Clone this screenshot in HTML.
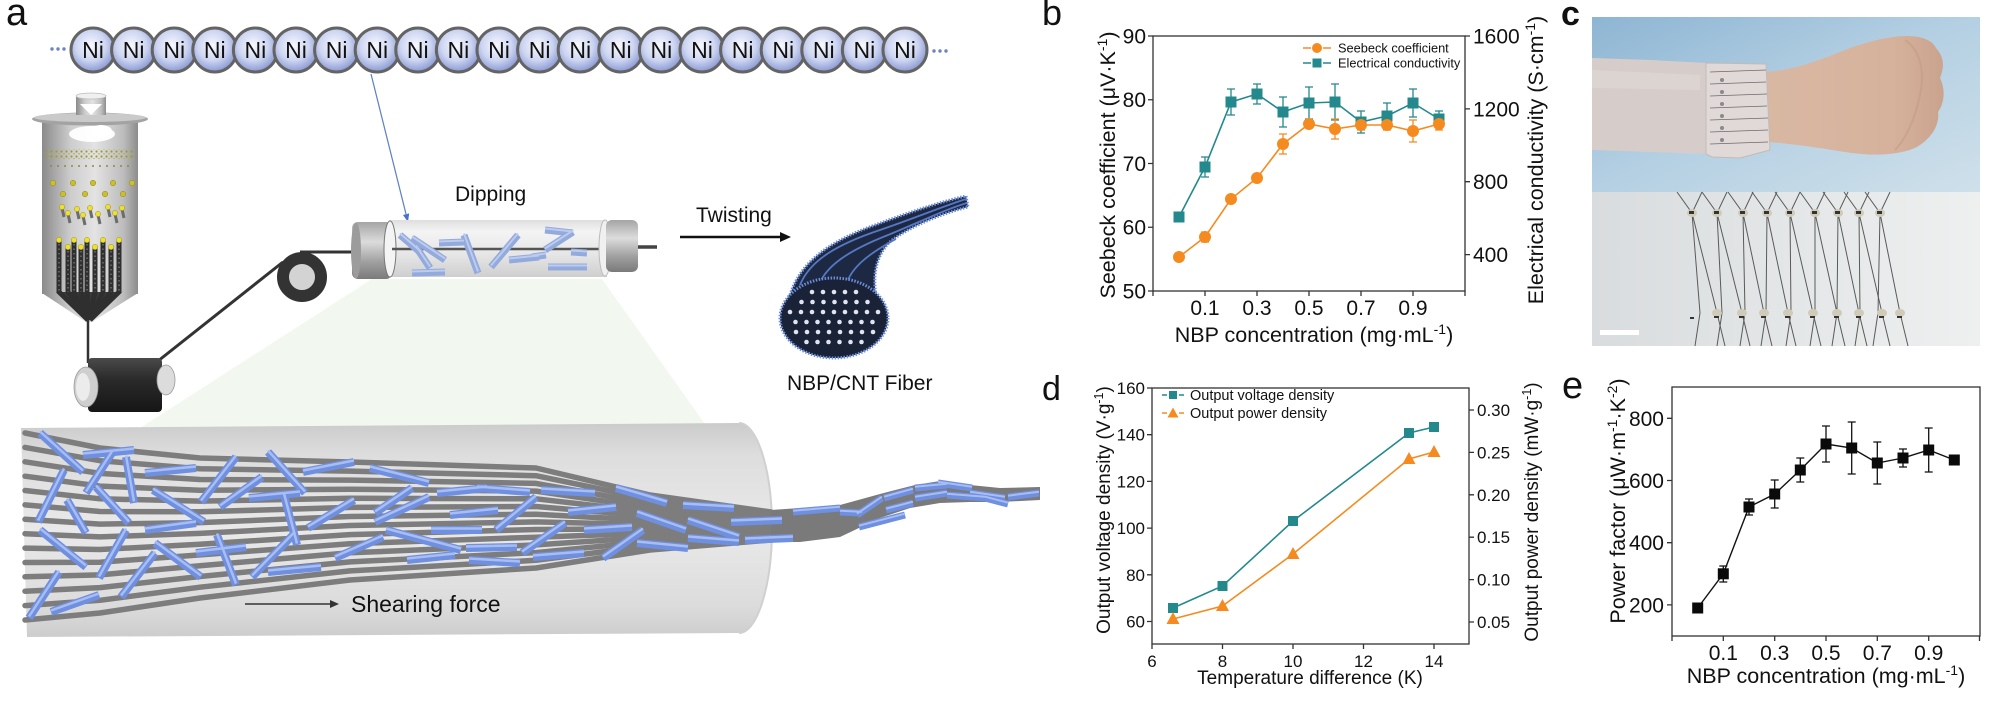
<!DOCTYPE html>
<html><head><meta charset="utf-8">
<style>
html,body{margin:0;padding:0;background:#fff;}
svg{display:block;}
text{font-family:"Liberation Sans",Arial,sans-serif;fill:#111;}
</style></head><body>
<svg width="2000" height="705" viewBox="0 0 2000 705" xmlns="http://www.w3.org/2000/svg">
<defs>
 <radialGradient id="ni" cx="0.45" cy="0.4" r="0.62">
  <stop offset="0" stop-color="#f8f9fe"/><stop offset="0.55" stop-color="#cdd5f1"/><stop offset="1" stop-color="#8494d0"/>
 </radialGradient>
 <linearGradient id="body" x1="0" x2="1" y1="0" y2="0">
  <stop offset="0" stop-color="#8a8a8a"/><stop offset="0.3" stop-color="#cdcdcd"/><stop offset="0.55" stop-color="#e3e3e3"/><stop offset="0.85" stop-color="#bcbcbc"/><stop offset="1" stop-color="#8c8c8c"/>
 </linearGradient>
 <linearGradient id="capH" x1="0" x2="0" y1="0" y2="1">
  <stop offset="0" stop-color="#a5a5a5"/><stop offset="0.35" stop-color="#dcdcdc"/><stop offset="0.7" stop-color="#a0a0a0"/><stop offset="1" stop-color="#7a7a7a"/>
 </linearGradient>
 <linearGradient id="tube" x1="0" x2="0" y1="0" y2="1">
  <stop offset="0" stop-color="#dedede"/><stop offset="0.2" stop-color="#f4f4f4"/><stop offset="0.6" stop-color="#e6e6e6"/><stop offset="1" stop-color="#cfcfcf"/>
 </linearGradient>
 <linearGradient id="cyl" x1="0" x2="0" y1="0" y2="1">
  <stop offset="0" stop-color="#cbcbcb"/><stop offset="0.15" stop-color="#dddddd"/><stop offset="0.5" stop-color="#e9e9e9"/><stop offset="0.85" stop-color="#dcdcdc"/><stop offset="1" stop-color="#cdcdcd"/>
 </linearGradient>
 <linearGradient id="spool" x1="0" x2="0" y1="0" y2="1">
  <stop offset="0" stop-color="#4a4a4a"/><stop offset="0.4" stop-color="#2a2a2a"/><stop offset="1" stop-color="#161616"/>
 </linearGradient>
 <linearGradient id="sky" x1="0" y1="0" x2="1" y2="1">
  <stop offset="0" stop-color="#8db5d3"/><stop offset="0.5" stop-color="#b5d0e3"/><stop offset="1" stop-color="#cfe0ea"/>
 </linearGradient>
 <linearGradient id="paper" x1="0" y1="0" x2="1" y2="0">
  <stop offset="0" stop-color="#d9dcde"/><stop offset="1" stop-color="#eef0f0"/>
 </linearGradient>
 <linearGradient id="skin" x1="0" y1="0" x2="1" y2="0">
  <stop offset="0" stop-color="#d9b8a3"/><stop offset="0.7" stop-color="#d6b29c"/><stop offset="1" stop-color="#caa38d"/>
 </linearGradient>
 <pattern id="olive" width="5" height="5" patternUnits="userSpaceOnUse">
  <circle cx="1.5" cy="1.5" r="1.1" fill="#9d9a3a"/><circle cx="4" cy="3.8" r="0.8" fill="#b3ae45"/>
 </pattern>
 <pattern id="olive2" width="7" height="4" patternUnits="userSpaceOnUse">
  <circle cx="2" cy="2" r="1" fill="#8f8c35"/>
 </pattern>
 <g id="rods">
  <line x1="40" y1="433" x2="83" y2="472"/><line x1="83" y1="455" x2="134" y2="450"/><line x1="112" y1="453" x2="86" y2="493"/>
  <line x1="126" y1="457" x2="134" y2="503"/><line x1="64" y1="470" x2="38" y2="522"/><line x1="145" y1="473" x2="196" y2="468"/>
  <line x1="236" y1="457" x2="201" y2="502"/><line x1="268" y1="452" x2="305" y2="493"/><line x1="303" y1="472" x2="354" y2="462"/>
  <line x1="370" y1="468" x2="429" y2="483"/><line x1="262" y1="477" x2="220" y2="507"/><line x1="153" y1="490" x2="204" y2="522"/>
  <line x1="249" y1="498" x2="300" y2="493"/><line x1="284" y1="495" x2="297" y2="545"/><line x1="354" y1="500" x2="308" y2="528"/>
  <line x1="67" y1="500" x2="86" y2="533"/><line x1="96" y1="487" x2="129" y2="523"/><line x1="145" y1="530" x2="196" y2="523"/>
  <line x1="40" y1="530" x2="86" y2="567"/><line x1="126" y1="530" x2="99" y2="578"/><line x1="155" y1="543" x2="201" y2="577"/>
  <line x1="217" y1="535" x2="236" y2="585"/><line x1="196" y1="553" x2="246" y2="547"/><line x1="295" y1="533" x2="252" y2="577"/>
  <line x1="268" y1="572" x2="321" y2="567"/><line x1="155" y1="553" x2="121" y2="597"/><line x1="59" y1="572" x2="29" y2="618"/>
  <line x1="51" y1="612" x2="99" y2="595"/><line x1="335" y1="558" x2="383" y2="537"/><line x1="375" y1="522" x2="429" y2="497"/>
  <line x1="386" y1="530" x2="461" y2="550"/><line x1="407" y1="560" x2="455" y2="555"/><line x1="412" y1="488" x2="375" y2="513"/>
  <line x1="437" y1="493" x2="487" y2="488"/><line x1="450" y1="515" x2="498" y2="510"/><line x1="431" y1="530" x2="482" y2="530"/>
  <line x1="477" y1="488" x2="530" y2="492"/><line x1="496" y1="530" x2="536" y2="497"/><line x1="466" y1="548" x2="517" y2="547"/>
  <line x1="469" y1="560" x2="520" y2="563"/><line x1="533" y1="557" x2="584" y2="553"/><line x1="522" y1="553" x2="565" y2="523"/>
  <line x1="541" y1="490" x2="595" y2="493"/><line x1="568" y1="512" x2="616" y2="507"/><line x1="584" y1="530" x2="632" y2="527"/>
  <line x1="616" y1="488" x2="667" y2="503"/><line x1="637" y1="543" x2="688" y2="548"/><line x1="603" y1="558" x2="643" y2="530"/>
  <line x1="683" y1="505" x2="734" y2="508"/><line x1="637" y1="513" x2="686" y2="530"/><line x1="688" y1="520" x2="739" y2="537"/>
  <line x1="731" y1="522" x2="782" y2="520"/><line x1="688" y1="538" x2="739" y2="542"/><line x1="745" y1="540" x2="793" y2="538"/>
 </g>
 <g id="tailrods">
  <line x1="793" y1="512" x2="840" y2="508"/><line x1="840" y1="512" x2="862" y2="513"/><line x1="857" y1="515" x2="882" y2="498"/>
  <line x1="859" y1="527" x2="905" y2="515"/><line x1="884" y1="498" x2="913" y2="490"/><line x1="886" y1="510" x2="913" y2="503"/>
  <line x1="915" y1="488" x2="947" y2="485"/><line x1="915" y1="498" x2="947" y2="493"/><line x1="938" y1="483" x2="972" y2="488"/>
  <line x1="947" y1="495" x2="985" y2="498"/><line x1="970" y1="493" x2="1005" y2="498"/><line x1="985" y1="498" x2="1008" y2="504"/>
  <line x1="1008" y1="497" x2="1039" y2="493"/>
 </g>
 <g id="tuberods">
  <line x1="400" y1="235" x2="421" y2="253"/><line x1="412" y1="238" x2="445" y2="260"/><line x1="416" y1="247" x2="430" y2="268"/>
  <line x1="412" y1="273" x2="445" y2="272"/><line x1="439" y1="243" x2="464" y2="242"/><line x1="464" y1="235" x2="478" y2="273"/>
  <line x1="491" y1="267" x2="518" y2="235"/><line x1="509" y1="260" x2="539" y2="257"/><line x1="545" y1="230" x2="573" y2="233"/>
  <line x1="545" y1="250" x2="573" y2="232"/><line x1="571" y1="252" x2="587" y2="253"/><line x1="548" y1="267" x2="587" y2="267"/>
  <line x1="532" y1="257" x2="546" y2="255"/>
 </g>
</defs>

<!-- ================= PANEL A ================= -->
<text x="6" y="25" font-size="38">a</text>

<g fill="#6f7fc8"><circle cx="52" cy="49" r="1.7"/><circle cx="58" cy="49" r="1.7"/><circle cx="64" cy="49" r="1.7"/>
<circle cx="934" cy="51" r="1.7"/><circle cx="940" cy="51" r="1.7"/><circle cx="946" cy="51" r="1.7"/></g>
<g stroke="#646464" stroke-width="3" fill="url(#ni)">
<circle cx="93" cy="50" r="22"/><circle cx="133.6" cy="50" r="22"/><circle cx="174.2" cy="50" r="22"/><circle cx="214.8" cy="50" r="22"/>
<circle cx="255.4" cy="50" r="22"/><circle cx="296" cy="50" r="22"/><circle cx="336.6" cy="50" r="22"/><circle cx="377.2" cy="50" r="22"/>
<circle cx="417.8" cy="50" r="22"/><circle cx="458.4" cy="50" r="22"/><circle cx="499" cy="50" r="22"/><circle cx="539.6" cy="50" r="22"/>
<circle cx="580.2" cy="50" r="22"/><circle cx="620.8" cy="50" r="22"/><circle cx="661.4" cy="50" r="22"/><circle cx="702" cy="50" r="22"/>
<circle cx="742.6" cy="50" r="22"/><circle cx="783.2" cy="50" r="22"/><circle cx="823.8" cy="50" r="22"/><circle cx="864.4" cy="50" r="22"/>
<circle cx="905" cy="50" r="22"/>
</g>
<g font-size="23" text-anchor="middle" fill="#151515">
<text x="93" y="58">Ni</text><text x="133.6" y="58">Ni</text><text x="174.2" y="58">Ni</text><text x="214.8" y="58">Ni</text>
<text x="255.4" y="58">Ni</text><text x="296" y="58">Ni</text><text x="336.6" y="58">Ni</text><text x="377.2" y="58">Ni</text>
<text x="417.8" y="58">Ni</text><text x="458.4" y="58">Ni</text><text x="499" y="58">Ni</text><text x="539.6" y="58">Ni</text>
<text x="580.2" y="58">Ni</text><text x="620.8" y="58">Ni</text><text x="661.4" y="58">Ni</text><text x="702" y="58">Ni</text>
<text x="742.6" y="58">Ni</text><text x="783.2" y="58">Ni</text><text x="823.8" y="58">Ni</text><text x="864.4" y="58">Ni</text>
<text x="905" y="58">Ni</text>
</g>
<line x1="371" y1="74" x2="406" y2="214" stroke="#5b80c8" stroke-width="1.2"/>
<polygon points="408,222 409.2,213.4 403,215" fill="#4a72c4"/>

<!-- Reactor -->
<rect x="42" y="122" width="96" height="172" fill="url(#body)"/>
<polygon points="42,293 138,293 92,322 86,322" fill="url(#body)"/>
<ellipse cx="90" cy="119" rx="58" ry="6.5" fill="#a3a3a3"/>
<ellipse cx="90" cy="117.5" rx="56" ry="4.5" fill="#cacaca"/>
<rect x="76" y="96" width="30" height="19" fill="url(#body)"/>
<ellipse cx="91" cy="96" rx="15" ry="3" fill="#f0f0f0" stroke="#bbb" stroke-width="0.8"/>
<polygon points="80,104 102,104 91,115" fill="#fff"/>
<ellipse cx="92" cy="134" rx="23" ry="8" fill="#fff" opacity="0.95"/>
<ellipse cx="101" cy="131" rx="11" ry="6" fill="#fff"/>
<rect x="46" y="149" width="88" height="10" fill="url(#olive)"/>
<rect x="48" y="164" width="86" height="4" fill="url(#olive2)"/>
<g fill="#cbbf30" stroke="#8e8720" stroke-width="0.5">
<circle cx="53" cy="183" r="2.8"/><circle cx="73" cy="183" r="2.8"/><circle cx="93" cy="183" r="2.8"/><circle cx="113" cy="183" r="2.8"/><circle cx="132" cy="183" r="2.8"/>
<circle cx="63" cy="194" r="2.8"/><circle cx="85" cy="194" r="2.8"/><circle cx="105" cy="194" r="2.8"/><circle cx="123" cy="194" r="2.8"/>
</g>
<g stroke="#6d6d6d" stroke-width="3">
<line x1="62" y1="208" x2="64" y2="217"/><line x1="68" y1="214" x2="70" y2="223"/><line x1="77" y1="210" x2="79" y2="219"/>
<line x1="83" y1="216" x2="85" y2="225"/><line x1="90" y1="209" x2="92" y2="218"/><line x1="98" y1="215" x2="100" y2="224"/>
<line x1="108" y1="208" x2="110" y2="217"/><line x1="115" y1="214" x2="117" y2="223"/><line x1="122" y1="209" x2="124" y2="218"/>
</g>
<g fill="#eee02c" stroke="#9a9020" stroke-width="0.5">
<circle cx="62" cy="207" r="2.6"/><circle cx="68" cy="213" r="2.6"/><circle cx="77" cy="209" r="2.6"/><circle cx="83" cy="215" r="2.6"/>
<circle cx="90" cy="208" r="2.6"/><circle cx="98" cy="214" r="2.6"/><circle cx="108" cy="207" r="2.6"/><circle cx="115" cy="213" r="2.6"/><circle cx="122" cy="208" r="2.6"/>
</g>
<polygon points="56,292 122,292 89,320" fill="#3a3a3a"/>
<g stroke="#2f2f2f" stroke-width="5" fill="none">
<path d="M59,240V292L88,320"/><path d="M68,247V292L88,320"/><path d="M74,240V292L88,320"/><path d="M81,247V292L88,320"/>
<path d="M87,240V292L89,320"/><path d="M95,247V292L89,320"/><path d="M103,240V292L90,320"/><path d="M111,247V292L90,320"/><path d="M119,240V292L90,320"/>
</g>
<g stroke="#707070" stroke-width="1.5" stroke-dasharray="1.5 3" fill="none">
<path d="M59,244V292"/><path d="M68,251V292"/><path d="M74,244V292"/><path d="M81,251V292"/><path d="M87,244V292"/><path d="M95,251V292"/><path d="M103,244V292"/><path d="M111,251V292"/><path d="M119,244V292"/>
</g>
<g fill="#eee02c" stroke="#9a9020" stroke-width="0.5">
<circle cx="59" cy="240" r="2.7"/><circle cx="68" cy="247" r="2.7"/><circle cx="74" cy="240" r="2.7"/><circle cx="81" cy="247" r="2.7"/>
<circle cx="87" cy="240" r="2.7"/><circle cx="95" cy="247" r="2.7"/><circle cx="103" cy="240" r="2.7"/><circle cx="111" cy="247" r="2.7"/><circle cx="119" cy="240" r="2.7"/>
</g>

<line x1="88" y1="320" x2="88" y2="363" stroke="#333" stroke-width="2.5"/>
<line x1="158" y1="361" x2="283" y2="262" stroke="#333" stroke-width="3"/>
<line x1="300" y1="252" x2="356" y2="252" stroke="#333" stroke-width="3"/>
<rect x="88" y="358" width="74" height="54" rx="4" fill="url(#spool)"/>
<ellipse cx="166" cy="380" rx="9" ry="15" fill="#dcdcdc" stroke="#999" stroke-width="0.8"/>
<ellipse cx="86" cy="387" rx="12" ry="20" fill="#cfcfcf" stroke="#9a9a9a" stroke-width="0.8"/>
<ellipse cx="83" cy="387" rx="7" ry="14" fill="#ececec"/>
<circle cx="302" cy="277" r="19" fill="#d3d3d3" stroke="#333" stroke-width="12"/>

<polygon points="372,279 602,279 705,424 140,428" fill="#f2f8f0"/>

<!-- dipping tube -->
<rect x="352" y="222" width="40" height="57" rx="6" fill="url(#capH)"/>
<ellipse cx="356" cy="250.5" rx="5" ry="28" fill="#9c9c9c"/>
<rect x="389" y="220" width="218" height="57" fill="url(#tube)"/>
<ellipse cx="390" cy="249" rx="6" ry="28" fill="#f4f4f4" stroke="#777" stroke-width="1"/>
<line x1="392" y1="249" x2="606" y2="249" stroke="#555" stroke-width="2.5"/>
<use href="#tuberods" stroke="#93aadc" stroke-width="7"/>
<use href="#tuberods" stroke="#bccbee" stroke-width="2" transform="translate(0,-1.5)"/>
<ellipse cx="605" cy="248" rx="6" ry="28" fill="#f0f0f0" stroke="#bbb" stroke-width="1"/>
<rect x="606" y="220" width="32" height="52" rx="6" fill="url(#capH)"/>
<line x1="638" y1="247" x2="657" y2="247" stroke="#444" stroke-width="3.5"/>
<text x="455" y="201" font-size="21">Dipping</text>

<text x="696" y="222" font-size="21">Twisting</text>
<line x1="680" y1="237" x2="782" y2="237" stroke="#111" stroke-width="2.5"/>
<polygon points="780,232 791,237 780,242" fill="#111"/>

<!-- twisted fiber -->
<path d="M790,295 C800,262 830,241 875,225 C910,212 940,202 966,196 L968,207 C940,214 912,226 892,240 C878,252 872,272 876,295 Z" fill="#1d2842" stroke="#6c8edb" stroke-width="3" stroke-dasharray="1.5 1.5"/>
<g fill="none" stroke="#5577c4" stroke-width="1.8">
<path d="M800,285 C810,260 838,244 880,230 C915,218 944,206 966,199"/>
<path d="M818,288 C824,266 850,250 888,235 C920,222 946,209 967,203"/>
<path d="M845,290 C848,270 866,255 896,239"/>
</g>
<ellipse cx="834" cy="318" rx="54" ry="40" fill="#1a2238" stroke="#6c8edb" stroke-width="3" stroke-dasharray="1.5 1.5"/>
<g fill="#dfe4ee">
<circle cx="812" cy="292" r="2.3"/><circle cx="823" cy="292" r="2.3"/><circle cx="834" cy="292" r="2.3"/><circle cx="845" cy="292" r="2.3"/><circle cx="856" cy="292" r="2.3"/>
<circle cx="801.5" cy="302" r="2.3"/><circle cx="812.5" cy="302" r="2.3"/><circle cx="823.5" cy="302" r="2.3"/><circle cx="834.5" cy="302" r="2.3"/><circle cx="845.5" cy="302" r="2.3"/><circle cx="856.5" cy="302" r="2.3"/><circle cx="867.5" cy="302" r="2.3"/>
<circle cx="790" cy="312" r="2.3"/><circle cx="801" cy="312" r="2.3"/><circle cx="812" cy="312" r="2.3"/><circle cx="823" cy="312" r="2.3"/><circle cx="834" cy="312" r="2.3"/><circle cx="845" cy="312" r="2.3"/><circle cx="856" cy="312" r="2.3"/><circle cx="867" cy="312" r="2.3"/><circle cx="878" cy="312" r="2.3"/>
<circle cx="795.5" cy="322" r="2.3"/><circle cx="806.5" cy="322" r="2.3"/><circle cx="817.5" cy="322" r="2.3"/><circle cx="828.5" cy="322" r="2.3"/><circle cx="839.5" cy="322" r="2.3"/><circle cx="850.5" cy="322" r="2.3"/><circle cx="861.5" cy="322" r="2.3"/><circle cx="872.5" cy="322" r="2.3"/>
<circle cx="796" cy="332" r="2.3"/><circle cx="807" cy="332" r="2.3"/><circle cx="818" cy="332" r="2.3"/><circle cx="829" cy="332" r="2.3"/><circle cx="840" cy="332" r="2.3"/><circle cx="851" cy="332" r="2.3"/><circle cx="862" cy="332" r="2.3"/><circle cx="873" cy="332" r="2.3"/>
<circle cx="806.5" cy="342" r="2.3"/><circle cx="817.5" cy="342" r="2.3"/><circle cx="828.5" cy="342" r="2.3"/><circle cx="839.5" cy="342" r="2.3"/><circle cx="850.5" cy="342" r="2.3"/><circle cx="861.5" cy="342" r="2.3"/>
</g>
<text x="787" y="390" font-size="21">NBP/CNT Fiber</text>

<!-- big cylinder -->
<path d="M21,428 L739,423 A33,105 0 0 1 739,633 L27,637 Z" fill="url(#cyl)"/>
<path d="M739,423 A33,105 0 0 1 739,633" fill="none" stroke="#d0d0d0" stroke-width="2"/>
<g stroke="#7d7d7d" stroke-width="5.5" fill="none" stroke-linejoin="round" stroke-linecap="round">
<polyline points="25,433 100,448 200,458 350,462 536,468 650,495 771,512"/>
<polyline points="25,447.4 100,460.7 200,468.8 350,471.1 536,475.7 650,499.2 771,514.2"/>
<polyline points="25,461.8 100,473.4 200,479.5 350,480.1 536,483.4 650,503.5 771,516.3"/>
<polyline points="25,476.2 100,486.1 200,490.3 350,489.2 536,491.1 650,507.7 771,518.5"/>
<polyline points="25,490.5 100,498.8 200,501.1 350,498.3 536,498.8 650,511.9 771,520.6"/>
<polyline points="25,504.9 100,511.5 200,511.8 350,507.4 536,506.5 650,516.2 771,522.8"/>
<polyline points="25,519.3 100,524.1 200,522.6 350,516.5 536,514.2 650,520.4 771,524.9"/>
<polyline points="25,533.7 100,536.9 200,533.4 350,525.5 536,521.9 650,524.6 771,527.1"/>
<polyline points="25,548.1 100,549.5 200,544.2 350,534.6 536,529.5 650,528.8 771,529.2"/>
<polyline points="25,562.5 100,562.2 200,554.9 350,543.7 536,537.2 650,533.1 771,531.4"/>
<polyline points="25,576.8 100,574.9 200,565.7 350,552.8 536,544.9 650,537.3 771,533.5"/>
<polyline points="25,591.2 100,587.6 200,576.5 350,561.9 536,552.6 650,541.5 771,535.7"/>
<polyline points="25,605.6 100,600.3 200,587.2 350,570.9 536,560.3 650,545.8 771,537.8"/>
<polyline points="25,620 100,613 200,598 350,580 536,568 650,550 771,540"/>
</g>
<polygon points="771,510 800,508 840,505 880,494 915,485 940,481 970,485 1000,488 1040,487 1040,500 1000,502 970,502 940,503 910,508 880,518 840,537 800,542 771,542" fill="#7a7a7a"/>
<use href="#rods" stroke="#6f8fe0" stroke-width="8"/>
<use href="#rods" stroke="#a8bdf2" stroke-width="2.5" transform="translate(0,-1.5)"/>
<use href="#tailrods" stroke="#6f8fe0" stroke-width="7"/>
<use href="#tailrods" stroke="#a8bdf2" stroke-width="2" transform="translate(0,-1.3)"/>
<line x1="245" y1="604" x2="331" y2="604" stroke="#333" stroke-width="1.6"/>
<polygon points="330,600 339,604 330,608" fill="#333"/>
<text x="351" y="612" font-size="23">Shearing force</text>

<!-- ================= PANEL B ================= -->
<text x="1042" y="25" font-size="36">b</text>
<rect x="1153" y="36" width="312" height="255" fill="none" stroke="#333" stroke-width="1.3"/>
<g stroke="#333" stroke-width="1.3">
<path d="M1148,291H1153M1148,227.25H1153M1148,163.5H1153M1148,99.75H1153M1148,36H1153"/>
<path d="M1465,254.6H1470M1465,181.7H1470M1465,108.9H1470M1465,36H1470"/>
<path d="M1153,291V296M1205,291V296M1257,291V296M1309,291V296M1361,291V296M1413,291V296M1465,291V296"/>
</g>
<g font-size="21" text-anchor="end">
<text x="1146" y="298.5">50</text><text x="1146" y="234.7">60</text><text x="1146" y="171">70</text><text x="1146" y="107.2">80</text><text x="1146" y="43.5">90</text>
</g>
<g font-size="21">
<text x="1473" y="43.5">1600</text><text x="1473" y="116.4">1200</text><text x="1473" y="189.2">800</text><text x="1473" y="262.1">400</text>
</g>
<g font-size="21" text-anchor="middle">
<text x="1205" y="315">0.1</text><text x="1257" y="315">0.3</text><text x="1309" y="315">0.5</text><text x="1361" y="315">0.7</text><text x="1413" y="315">0.9</text>
</g>
<text x="1314" y="342" font-size="21.5" text-anchor="middle">NBP concentration (mg·mL<tspan dy="-8" font-size="14">-1</tspan><tspan dy="8">)</tspan></text>
<text transform="translate(1115,165) rotate(-90)" font-size="21.5" text-anchor="middle">Seebeck coefficient (μV·K<tspan dy="-8" font-size="14">-1</tspan><tspan dy="8">)</tspan></text>
<text transform="translate(1543,160) rotate(-90)" font-size="21.5" text-anchor="middle">Electrical conductivity (S·cm<tspan dy="-8" font-size="14">-1</tspan><tspan dy="8">)</tspan></text>
<polyline points="1179,217 1205,167 1231,102 1257,94 1283,112 1309,103 1335,102 1361,122 1387,116 1413,103 1439,119" fill="none" stroke="#23898d" stroke-width="1.6"/>
<polyline points="1179,257 1205,237 1231,199 1257,178 1283,144 1309,124 1335,129 1361,125 1387,125 1413,131 1439,124" fill="none" stroke="#f58b1f" stroke-width="1.6"/>
<path d="M1205,157V177M1201,157H1209M1201,177H1209M1231,89V115M1227,89H1235M1227,115H1235M1257,84V104M1253,84H1261M1253,104H1261M1283,97V127M1279,97H1287M1279,127H1287M1309,87V119M1305,87H1313M1305,119H1313M1335,84V120M1331,84H1339M1331,120H1339M1361,111V133M1357,111H1365M1357,133H1365M1387,103V129M1383,103H1391M1383,129H1391M1413,89V117M1409,89H1417M1409,117H1417M1439,111V127M1435,111H1443M1435,127H1443" stroke="#23898d" stroke-width="1.3" fill="none"/>
<path d="M1179,253V261M1175,253H1183M1175,261H1183M1205,232V242M1201,232H1209M1201,242H1209M1283,134V154M1279,134H1287M1279,154H1287M1335,119V139M1331,119H1339M1331,139H1339M1361,120V130M1357,120H1365M1357,130H1365M1387,120V130M1383,120H1391M1383,130H1391M1413,120V142M1409,120H1417M1409,142H1417M1439,118V130M1435,118H1443M1435,130H1443" stroke="#f58b1f" stroke-width="1.3" fill="none"/>
<g fill="#23898d">
<rect x="1173.5" y="211.5" width="11" height="11"/><rect x="1199.5" y="161.5" width="11" height="11"/><rect x="1225.5" y="96.5" width="11" height="11"/>
<rect x="1251.5" y="88.5" width="11" height="11"/><rect x="1277.5" y="106.5" width="11" height="11"/><rect x="1303.5" y="97.5" width="11" height="11"/>
<rect x="1329.5" y="96.5" width="11" height="11"/><rect x="1355.5" y="116.5" width="11" height="11"/><rect x="1381.5" y="110.5" width="11" height="11"/>
<rect x="1407.5" y="97.5" width="11" height="11"/><rect x="1433.5" y="113.5" width="11" height="11"/>
</g>
<g fill="#f58b1f">
<circle cx="1179" cy="257" r="6"/><circle cx="1205" cy="237" r="6"/><circle cx="1231" cy="199" r="6"/><circle cx="1257" cy="178" r="6"/>
<circle cx="1283" cy="144" r="6"/><circle cx="1309" cy="124" r="6"/><circle cx="1335" cy="129" r="6"/><circle cx="1361" cy="125" r="6"/>
<circle cx="1387" cy="125" r="6"/><circle cx="1413" cy="131" r="6"/><circle cx="1439" cy="124" r="6"/>
</g>
<path d="M1303,48H1311M1323,48H1331" stroke="#f58b1f" stroke-width="1.6"/>
<circle cx="1317" cy="48" r="5" fill="#f58b1f"/>
<path d="M1303,63H1311M1323,63H1331" stroke="#23898d" stroke-width="1.6"/>
<rect x="1312.5" y="58.5" width="9" height="9" fill="#23898d"/>
<text x="1338" y="52.5" font-size="12.8">Seebeck coefficient</text>
<text x="1338" y="67.5" font-size="12.8">Electrical conductivity</text>

<!-- ================= PANEL C ================= -->
<text x="1561" y="25" font-size="34" font-weight="bold">c</text>
<rect x="1592" y="17" width="388" height="175" fill="url(#sky)"/>
<path d="M1592,58 L1650,60 L1707,63 L1707,154 L1650,152 L1592,150 Z" fill="#d6cdca"/>
<path d="M1592,70 L1700,75 L1700,90 L1592,88 Z" fill="#e0d8d5" opacity="0.6"/>
<path d="M1766,72 C1795,70 1820,60 1845,50 C1865,42 1885,37 1905,36 C1922,36 1932,40 1936,48 C1945,58 1944,68 1940,78 C1946,90 1944,104 1938,112 C1940,126 1930,140 1915,148 C1895,156 1870,156 1845,152 C1820,148 1795,144 1768,142 Z" fill="url(#skin)"/>
<path d="M1905,40 C1920,50 1925,70 1920,95 C1915,120 1905,140 1895,150" fill="none" stroke="#c29a85" stroke-width="2" opacity="0.5"/>
<path d="M1706,63 L1766,64 L1770,150 L1740,158 L1712,157 L1706,154 Z" fill="#e1d9d7" stroke="#c2bab7" stroke-width="1"/>
<g stroke="#6b6b6b" stroke-width="0.8">
<line x1="1710" y1="72" x2="1766" y2="70"/><line x1="1710" y1="84" x2="1766" y2="82"/><line x1="1710" y1="96" x2="1767" y2="94"/>
<line x1="1710" y1="108" x2="1767" y2="106"/><line x1="1710" y1="120" x2="1768" y2="118"/><line x1="1710" y1="132" x2="1768" y2="130"/><line x1="1710" y1="144" x2="1768" y2="142"/>
</g>
<g fill="#8a8a8a"><circle cx="1722" cy="80" r="2"/><circle cx="1722" cy="92" r="2"/><circle cx="1722" cy="104" r="2"/><circle cx="1722" cy="116" r="2"/><circle cx="1722" cy="128" r="2"/><circle cx="1722" cy="140" r="2"/></g>
<rect x="1592" y="192" width="388" height="154" fill="url(#paper)"/>
<g stroke="#5a5a5a" stroke-width="1" fill="none">
<path d="M1677,192L1692,213L1717,313L1725,346M1702,192L1692,213L1700,313L1695,346"/>
<path d="M1702,192L1717,213L1742,313L1750,346M1727,192L1717,213L1722,313L1717,346"/>
<path d="M1728,192L1743,213L1764,313L1772,346M1753,192L1743,213L1745,313L1740,346"/>
<path d="M1752,192L1767,213L1788,313L1796,346M1777,192L1767,213L1766,313L1761,346"/>
<path d="M1775,192L1790,213L1813,313L1821,346M1800,192L1790,213L1791,313L1786,346"/>
<path d="M1800,192L1815,213L1837,313L1845,346M1825,192L1815,213L1815,313L1810,346"/>
<path d="M1823,192L1838,213L1859,313L1867,346M1848,192L1838,213L1837,313L1832,346"/>
<path d="M1844,192L1859,213L1882,313L1890,346M1869,192L1859,213L1860,313L1855,346"/>
<path d="M1865,192L1880,213L1900,313L1908,346M1890,192L1880,213L1878,313L1873,346"/>
</g>
<g fill="#cfcbb8">
<ellipse cx="1692" cy="213" rx="5" ry="4"/><ellipse cx="1717" cy="213" rx="5" ry="4"/><ellipse cx="1743" cy="213" rx="5" ry="4"/><ellipse cx="1767" cy="213" rx="5" ry="4"/><ellipse cx="1790" cy="213" rx="5" ry="4"/><ellipse cx="1815" cy="213" rx="5" ry="4"/><ellipse cx="1838" cy="213" rx="5" ry="4"/><ellipse cx="1859" cy="213" rx="5" ry="4"/><ellipse cx="1880" cy="213" rx="5" ry="4"/>
<ellipse cx="1717" cy="313" rx="5" ry="4"/><ellipse cx="1742" cy="313" rx="5" ry="4"/><ellipse cx="1764" cy="313" rx="5" ry="4"/><ellipse cx="1788" cy="313" rx="5" ry="4"/><ellipse cx="1813" cy="313" rx="5" ry="4"/><ellipse cx="1837" cy="313" rx="5" ry="4"/><ellipse cx="1859" cy="313" rx="5" ry="4"/><ellipse cx="1882" cy="313" rx="5" ry="4"/><ellipse cx="1900" cy="313" rx="5" ry="4"/>
</g>
<g fill="#333">
<rect x="1689" y="211" width="5" height="3"/><rect x="1714" y="211" width="5" height="3"/><rect x="1740" y="211" width="5" height="3"/><rect x="1764" y="211" width="5" height="3"/><rect x="1787" y="211" width="5" height="3"/><rect x="1812" y="211" width="5" height="3"/><rect x="1835" y="211" width="5" height="3"/><rect x="1856" y="211" width="5" height="3"/><rect x="1877" y="211" width="5" height="3"/>
<rect x="1714" y="316" width="5" height="2"/><rect x="1739" y="316" width="5" height="2"/><rect x="1761" y="316" width="5" height="2"/><rect x="1785" y="316" width="5" height="2"/><rect x="1810" y="316" width="5" height="2"/><rect x="1834" y="316" width="5" height="2"/><rect x="1856" y="316" width="5" height="2"/><rect x="1879" y="316" width="5" height="2"/><rect x="1897" y="316" width="5" height="2"/><rect x="1690" y="317" width="4" height="2"/>
</g>
<rect x="1600" y="330" width="39" height="5" fill="#fff"/>

<!-- ================= PANEL D ================= -->
<text x="1042" y="400" font-size="34">d</text>
<rect x="1152" y="388" width="317" height="256" fill="none" stroke="#333" stroke-width="1.3"/>
<g stroke="#333" stroke-width="1.3">
<path d="M1147,388H1152M1147,434.7H1152M1147,481.4H1152M1147,528.1H1152M1147,574.8H1152M1147,621.5H1152"/>
<path d="M1152,644V649M1222.5,644V649M1293,644V649M1363.5,644V649M1434,644V649"/>
<path d="M1469,410H1474M1469,452.4H1474M1469,494.8H1474M1469,537.2H1474M1469,579.6H1474M1469,622H1474"/>
</g>
<g font-size="17" text-anchor="end">
<text x="1145" y="394">160</text><text x="1145" y="440.7">140</text><text x="1145" y="487.4">120</text><text x="1145" y="534.1">100</text><text x="1145" y="580.8">80</text><text x="1145" y="627.5">60</text>
</g>
<g font-size="17">
<text x="1477" y="416">0.30</text><text x="1477" y="458.4">0.25</text><text x="1477" y="500.8">0.20</text><text x="1477" y="543.2">0.15</text><text x="1477" y="585.6">0.10</text><text x="1477" y="628">0.05</text>
</g>
<g font-size="17" text-anchor="middle">
<text x="1152" y="667">6</text><text x="1222.5" y="667">8</text><text x="1293" y="667">10</text><text x="1363.5" y="667">12</text><text x="1434" y="667">14</text>
</g>
<text x="1310" y="684" font-size="19" text-anchor="middle">Temperature difference (K)</text>
<text transform="translate(1110,510) rotate(-90)" font-size="19" text-anchor="middle">Output voltage density (V·g<tspan dy="-7" font-size="12.5">-1</tspan><tspan dy="7">)</tspan></text>
<text transform="translate(1538,512) rotate(-90)" font-size="19" text-anchor="middle">Output power density (mW·g<tspan dy="-7" font-size="12.5">-1</tspan><tspan dy="7">)</tspan></text>
<polyline points="1173,608 1222.5,586 1293,521 1409,433 1434,427" fill="none" stroke="#23898d" stroke-width="1.6"/>
<polyline points="1173,619 1222.5,606 1293,554 1409,459 1434,452" fill="none" stroke="#f58b1f" stroke-width="1.6"/>
<g fill="#23898d">
<rect x="1168" y="603" width="10" height="10"/><rect x="1217.5" y="581" width="10" height="10"/><rect x="1288" y="516" width="10" height="10"/><rect x="1404" y="428" width="10" height="10"/><rect x="1429" y="422" width="10" height="10"/>
</g>
<g fill="#f58b1f">
<polygon points="1173,612 1166.5,624 1179.5,624"/><polygon points="1222.5,599 1216,611 1229,611"/><polygon points="1293,547 1286.5,559 1299.5,559"/><polygon points="1409,452 1402.5,464 1415.5,464"/><polygon points="1434,445 1427.5,457 1440.5,457"/>
</g>
<path d="M1162,395H1167M1179,395H1184" stroke="#23898d" stroke-width="1.5"/>
<rect x="1169" y="391" width="8" height="8" fill="#23898d"/>
<path d="M1162,413H1167M1179,413H1184" stroke="#f58b1f" stroke-width="1.5"/>
<polygon points="1173,407.5 1167.5,417.5 1178.5,417.5" fill="#f58b1f"/>
<text x="1190" y="400" font-size="14.5">Output voltage density</text>
<text x="1190" y="418" font-size="14.5">Output power density</text>

<!-- ================= PANEL E ================= -->
<text x="1562" y="398" font-size="38">e</text>
<rect x="1672" y="387" width="308" height="249" fill="none" stroke="#333" stroke-width="1.3"/>
<g stroke="#333" stroke-width="1.3">
<path d="M1667,604.9H1672M1667,542.7H1672M1667,480.5H1672M1667,418.3H1672"/>
<path d="M1672,636V641M1723.3,636V641M1774.7,636V641M1826,636V641M1877.3,636V641M1928.7,636V641M1979.5,636V641"/>
</g>
<g font-size="21" text-anchor="end">
<text x="1664" y="612.4">200</text><text x="1664" y="550.2">400</text><text x="1664" y="488">600</text><text x="1664" y="425.8">800</text>
</g>
<g font-size="21" text-anchor="middle">
<text x="1723.3" y="660">0.1</text><text x="1774.7" y="660">0.3</text><text x="1826" y="660">0.5</text><text x="1877.3" y="660">0.7</text><text x="1928.7" y="660">0.9</text>
</g>
<text x="1826" y="683" font-size="21.5" text-anchor="middle">NBP concentration (mg·mL<tspan dy="-8" font-size="14">-1</tspan><tspan dy="8">)</tspan></text>
<text transform="translate(1625,501) rotate(-90)" font-size="21.5" text-anchor="middle">Power factor (μW·m<tspan dy="-8" font-size="14">-1</tspan><tspan dy="8">·K</tspan><tspan dy="-8" font-size="14">-2</tspan><tspan dy="8">)</tspan></text>
<polyline points="1697.7,608 1723.3,573.8 1749,507 1774.7,494 1800.3,470 1826,444 1851.7,448 1877.3,463 1903,458 1928.7,450 1954.3,460" fill="none" stroke="#111" stroke-width="1.4"/>
<path d="M1723.3,566V582M1719.3,566H1727.3M1719.3,582H1727.3M1749,499V515M1745,499H1753M1745,515H1753M1774.7,480V508M1770.7,480H1778.7M1770.7,508H1778.7M1800.3,458V482M1796.3,458H1804.3M1796.3,482H1804.3M1826,426V462M1822,426H1830M1822,462H1830M1851.7,422V474M1847.7,422H1855.7M1847.7,474H1855.7M1877.3,442V484M1873.3,442H1881.3M1873.3,484H1881.3M1903,449V467M1899,449H1907M1899,467H1907M1928.7,428V472M1924.7,428H1932.7M1924.7,472H1932.7" stroke="#111" stroke-width="1.3" fill="none"/>
<g fill="#0a0a0a">
<rect x="1692.2" y="602.5" width="11" height="11"/><rect x="1717.8" y="568.3" width="11" height="11"/><rect x="1743.5" y="501.5" width="11" height="11"/>
<rect x="1769.2" y="488.5" width="11" height="11"/><rect x="1794.8" y="464.5" width="11" height="11"/><rect x="1820.5" y="438.5" width="11" height="11"/>
<rect x="1846.2" y="442.5" width="11" height="11"/><rect x="1871.8" y="457.5" width="11" height="11"/><rect x="1897.5" y="452.5" width="11" height="11"/>
<rect x="1923.2" y="444.5" width="11" height="11"/><rect x="1948.8" y="454.5" width="11" height="11"/>
</g>
</svg>
</body></html>
